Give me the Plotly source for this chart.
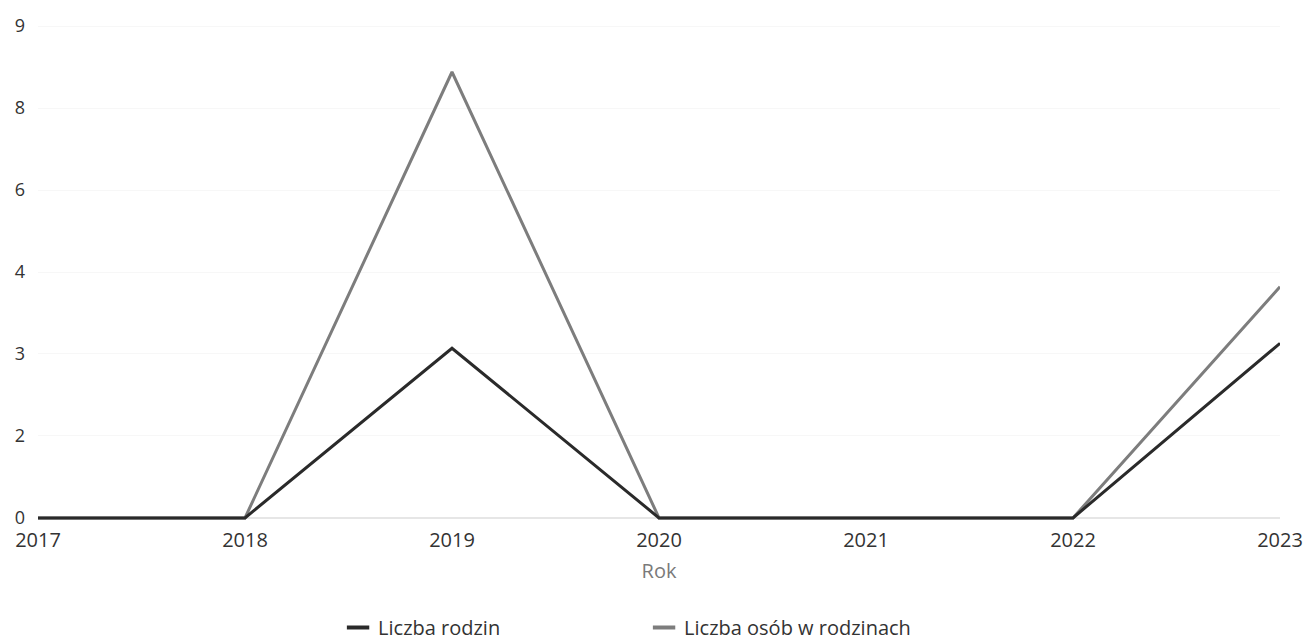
import numpy as np
import plotly.graph_objects as go

years = [2017, 2018, 2019, 2020, 2021, 2022, 2023]
liczba_rodzin = [0, 0, 3.07, 0, 0, 0, 3.13]
liczba_osob = [0, 0, 8.44, 0, 0, 0, 3.82]

# the y axis of the source is not linear: evenly spaced ticks with these labels
tick_labels = [0, 2, 3, 4, 6, 8, 9]
tick_pos = list(range(len(tick_labels)))


def to_axis(values):
    return np.interp(values, tick_labels, tick_pos)


font_family = "Open Sans, Noto Sans, sans-serif"
col_rodzin = '#2a2a2a'
col_osob = '#7d7d7d'

fig = go.Figure()

fig.add_trace(go.Scatter(x=years, y=to_axis(liczba_osob), mode='lines',
                         line=dict(color=col_osob, width=3), showlegend=False))
fig.add_trace(go.Scatter(x=years, y=to_axis(liczba_rodzin), mode='lines',
                         line=dict(color=col_rodzin, width=3), showlegend=False))

# legend entries with a short line sample
fig.add_trace(go.Scatter(x=[None], y=[None], mode='markers', name='Liczba rodzin',
                         marker=dict(symbol='line-ew-open', size=18, color=col_rodzin,
                                     line=dict(color=col_rodzin, width=4))))
fig.add_trace(go.Scatter(x=[None], y=[None], mode='markers', name='Liczba osób w rodzinach',
                         marker=dict(symbol='line-ew-open', size=18, color=col_osob,
                                     line=dict(color=col_osob, width=4))))

fig.update_layout(
    width=1307, height=640,
    margin=dict(l=38, r=27, t=22, b=118),
    paper_bgcolor='white', plot_bgcolor='white',
    font=dict(family=font_family, size=20, color='#333333'),
    showlegend=True,
    legend=dict(orientation='h', x=0.2416, xanchor='left',
                y=0.05, yref='container', yanchor='top',
                entrywidth=261, entrywidthmode='pixels',
                font=dict(size=20, color='#333333')),
)

fig.update_xaxes(
    range=[2017, 2023], tickvals=years, ticktext=[str(y) for y in years],
    showgrid=False, zeroline=False, showline=False, ticks='',
    ticklabelstandoff=4, automargin=False,
    tickfont=dict(size=20, color='#333333'),
    title=dict(text='Rok', font=dict(size=20, color='#7a7a7a'), standoff=11),
)
fig.update_yaxes(
    range=[-0.05, 6.05], tickvals=tick_pos, ticktext=[str(v) for v in tick_labels],
    showgrid=True, gridcolor='#f7f7f7', gridwidth=1,
    zeroline=True, zerolinecolor='#e6e6e6', zerolinewidth=1.5,
    showline=False, ticks='', ticklabelstandoff=12, automargin=False,
    tickfont=dict(size=18, color='#333333'),
)

# drop the default page margin so the figure fills the window without scrollbars
fig.write_html("out.html", config={'displayModeBar': False},
               post_script="document.body.style.margin='0';document.body.style.overflow='hidden';")
